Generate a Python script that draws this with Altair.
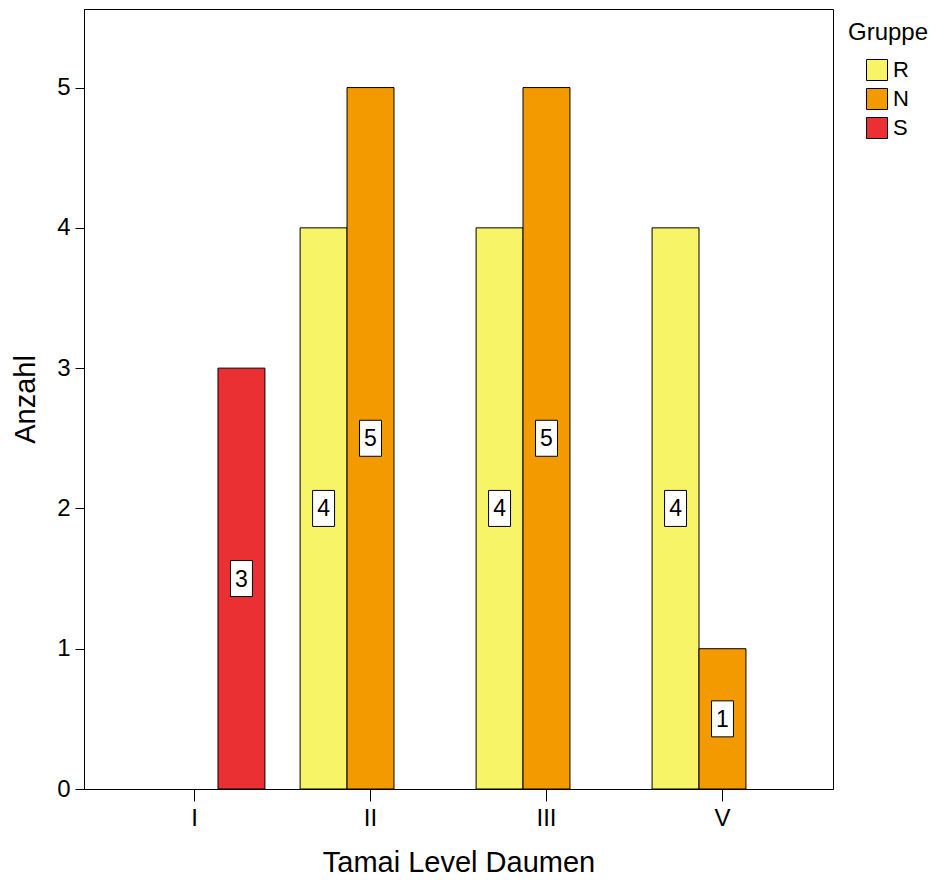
import altair as alt
import pandas as pd

levels = ["I", "II", "II", "III", "III", "V", "V"]
groups = ["S", "R", "N", "R", "N", "R", "N"]
counts = [3, 4, 5, 4, 5, 4, 1]

level_order = ["I", "II", "III", "V"]
group_order = ["R", "N", "S"]
group_colors = ["#f8f468", "#f39a00", "#eb3034"]

df = pd.DataFrame({"level": levels, "group": groups, "count": counts})
df["mid"] = df["count"] / 2

FONT = "Liberation Sans"

x_enc = alt.X("level:N", sort=level_order, title="Tamai Level Daumen",
              scale=alt.Scale(domain=level_order, paddingInner=0.2, paddingOuter=0.228),
              axis=alt.Axis(labelAngle=0, tickSize=12, labelPadding=5, titlePadding=18))
xoff = alt.XOffset("group:N", sort=group_order, scale=alt.Scale(domain=group_order, paddingInner=0, paddingOuter=0))

bars = alt.Chart(df).mark_bar(stroke="black", strokeWidth=1).encode(
    x=x_enc,
    xOffset=xoff,
    y=alt.Y("count:Q", title="Anzahl",
            scale=alt.Scale(domain=[0, 5.56], nice=False),
            axis=alt.Axis(values=[0, 1, 2, 3, 4, 5], format="d", tickSize=9, labelPadding=5, titlePadding=16)),
    color=alt.Color("group:N", sort=group_order, title="Gruppe",
                    scale=alt.Scale(domain=group_order, range=group_colors),
                    legend=alt.Legend(orient="none", legendX=764, legendY=12,
                                      symbolType="square", symbolSize=441, symbolStrokeColor="black",
                                      symbolStrokeWidth=1, symbolOffset=18, labelFontSize=22,
                                      titleFontSize=24, titleFontWeight="normal", rowPadding=3,
                                      labelOffset=5, titlePadding=14, padding=0)),
)

boxes = alt.Chart(df).mark_point(
    shape="M-0.61,-1H0.61V1H-0.61Z", size=1296, filled=True, fill="white",
    stroke="black", strokeWidth=1, opacity=1
).encode(x=alt.X("level:N", sort=level_order), xOffset=xoff, y=alt.Y("mid:Q"))

labels = alt.Chart(df).mark_text(fontSize=23, font=FONT, color="black", baseline="middle", dy=1).encode(
    x=alt.X("level:N", sort=level_order), xOffset=xoff, y=alt.Y("mid:Q"), text="count:Q"
)

chart = alt.layer(bars, boxes, labels).properties(
    width=749, height=780,
    autosize=alt.AutoSizeParams(type="none"),
    padding={"left": 76, "top": 1, "right": 96, "bottom": 92},
).configure_view(stroke="black", strokeWidth=1).configure_axis(
    grid=False, domainColor="black", tickColor="black", labelColor="black", titleColor="black",
    labelFont=FONT, titleFont=FONT, labelFontSize=24, titleFontSize=29, titleFontWeight="normal",
).configure_legend(labelFont=FONT, titleFont=FONT, labelColor="black", titleColor="black")

chart.save("out.html", embed_options={"renderer": "svg", "actions": False})
